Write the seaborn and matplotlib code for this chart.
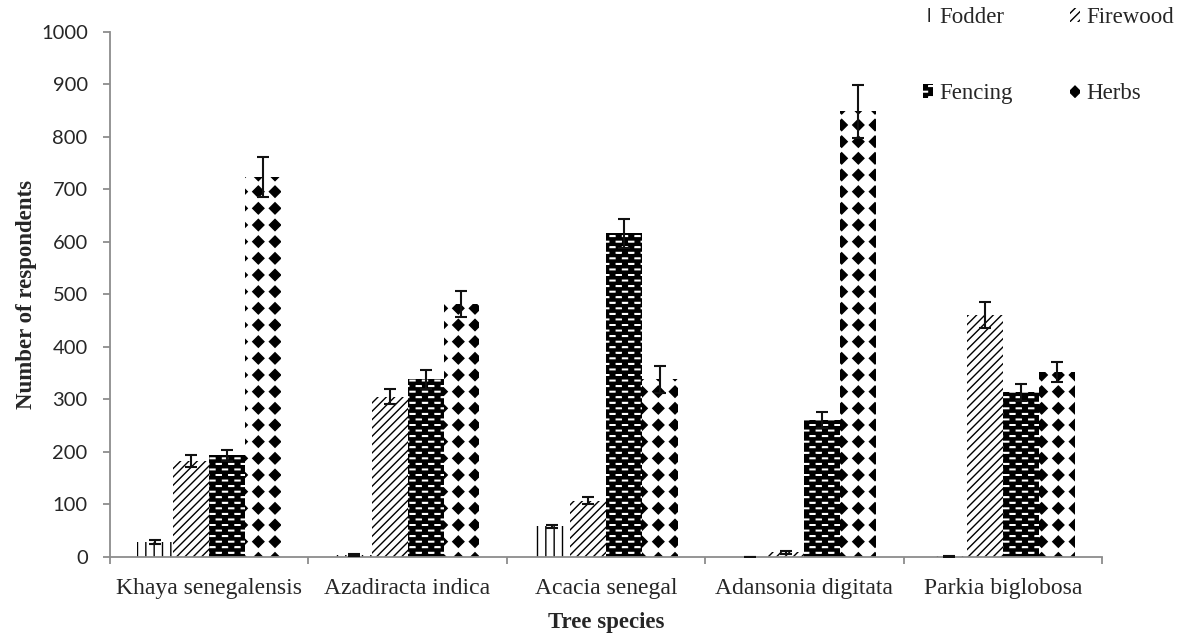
import numpy as np
import pandas as pd
import matplotlib
matplotlib.use("Agg")
import matplotlib.pyplot as plt
import matplotlib.hatch as mhatch
from matplotlib.path import Path
import seaborn as sns
from matplotlib.patches import Patch

species = ["Khaya senegalensis", "Azadiracta indica", "Acacia senegal",
           "Adansonia digitata", "Parkia biglobosa"]
uses = ["Fodder", "Firewood", "Fencing", "Herbs"]

fodder = [28, 4, 58, 0, 1]
firewood = [182, 305, 107, 8, 460]
fencing = [193, 338, 616, 260, 313]
herbs = [723, 482, 338, 848, 351]

fodder_err = [3, 2, 3, 0, 1]
firewood_err = [11, 15, 7, 3, 25]
fencing_err = [10, 18, 28, 15, 16]
herbs_err = [38, 25, 26, 50, 19]

yticks = list(range(0, 1001, 100))

values = [fodder, firewood, fencing, herbs]
errors = [fodder_err, firewood_err, fencing_err, herbs_err]


# ---- custom hatch patterns (diamond grid and brick-like dashes) ----
def _rect_block(cx, cy, hw, hh):
    return np.array([[cx - hw, cy - hh], [cx + hw, cy - hh],
                     [cx + hw, cy + hh], [cx - hw, cy + hh],
                     [cx - hw, cy - hh]])


class DiamondGrid(mhatch.HatchPatternBase):
    def __init__(self, hatch, density):
        self.n = hatch.count("O") * density
        self.num_vertices = self.n * self.n * 5

    def set_vertices_and_codes(self, vertices, codes):
        n = self.n
        h = 0.056
        shape = np.array([[0, h], [h, 0], [0, -h], [-h, 0], [0, h]])
        cs = (np.arange(n) + 0.5) / n
        k = 0
        for x in cs:
            for y in cs:
                vertices[k:k + 5] = shape + [x, y]
                codes[k] = Path.MOVETO
                codes[k + 1:k + 4] = Path.LINETO
                codes[k + 4] = Path.CLOSEPOLY
                k += 5


class DashBricks(mhatch.HatchPatternBase):
    def __init__(self, hatch, density):
        c = hatch.count("*")
        self.rows = c * 18
        self.cols = c * 8
        if c == 0:
            self.num_vertices = 0
        else:
            half = self.rows // 2
            self.num_vertices = (half * self.cols + half * (self.cols + 1)) * 5

    def set_vertices_and_codes(self, vertices, codes):
        k = 0
        hw, hh = 0.025, 0.003
        for r in range(self.rows):
            y = (r + 0.5) / self.rows
            if r % 2 == 0:
                xs = (np.arange(self.cols) + 0.5) / self.cols
            else:
                xs = np.arange(self.cols + 1) / self.cols
            for x in xs:
                vertices[k:k + 5] = _rect_block(x, y, hw, hh)
                codes[k] = Path.MOVETO
                codes[k + 1:k + 4] = Path.LINETO
                codes[k + 4] = Path.CLOSEPOLY
                k += 5


mhatch._hatch_types = [t for t in mhatch._hatch_types
                       if t not in (mhatch.LargeCircles, mhatch.Stars)]
mhatch._hatch_types += [DiamondGrid, DashBricks]

# ---- data frame ----
rows = []
for u, vals in zip(uses, values):
    for s, v in zip(species, vals):
        rows.append({"species": s, "use": u, "value": v})
df = pd.DataFrame(rows)

sns.set_theme(style="white")
plt.rcParams["hatch.linewidth"] = 1.0
serif = ["Liberation Serif", "DejaVu Serif"]

fig = plt.figure(figsize=(11.85, 6.36), dpi=100)
ax = fig.add_axes([0.0928, 0.1247, 0.8371, 0.8255])

sns.barplot(data=df, x="species", y="value", hue="use", order=species,
            hue_order=uses, errorbar=None, width=0.725, ax=ax,
            palette=["white"] * 4, legend=False)

styles = [
    dict(face="white", edge="black", hatch="||"),
    dict(face="white", edge="black", hatch="////"),
    dict(face="black", edge="white", hatch="*"),
    dict(face="white", edge="black", hatch="O"),
]

for cont, st, errs in zip(ax.containers, styles, errors):
    xs, ys = [], []
    for bar, e in zip(cont, errs):
        bar.set_facecolor(st["face"])
        bar.set_edgecolor(st["edge"])
        bar.set_hatch(st["hatch"])
        bar.set_linewidth(0)
        xs.append(bar.get_x() + bar.get_width() / 2)
        ys.append(bar.get_height())
    ax.errorbar(xs, ys, yerr=errs, fmt="none", ecolor="#111111",
                elinewidth=1.5, capsize=4.3, capthick=1.5, zorder=5)

ax.set_ylim(0, 1000)
ax.set_xlim(-0.5, len(species) - 0.5)
ax.set_yticks(yticks)
ax.set_yticklabels([str(t) for t in yticks], fontfamily="Lato", fontsize=14.5)
ax.set_xticks(range(len(species)))
ax.set_xticklabels(species, fontfamily=serif, fontsize=17)
ax.set_xticks(np.arange(-0.5, len(species), 1.0), minor=True)
ax.tick_params(axis="x", which="major", length=0, pad=15)
ax.tick_params(axis="x", which="minor", length=5, width=1.3, color="#8c8c8c",
               bottom=True)
ax.tick_params(axis="y", which="major", length=5, width=1.3, color="#8c8c8c",
               left=True, pad=11)

for side in ["top", "right"]:
    ax.spines[side].set_visible(False)
for side in ["left", "bottom"]:
    ax.spines[side].set_color("#8c8c8c")
    ax.spines[side].set_linewidth(1.3)

ax.set_xlabel("Tree species", fontfamily=serif, fontweight="bold",
              fontsize=16.5, labelpad=10)
ax.set_ylabel("Number of respondents", fontfamily=serif, fontweight="bold",
              fontsize=16.5, labelpad=3)

handles = [Patch(facecolor=st["face"], edgecolor=st["edge"], hatch=st["hatch"],
                 linewidth=0, label=u) for st, u in zip(styles, uses)]
order = [0, 2, 1, 3]
fig.legend(handles=[handles[i] for i in order], ncol=2, loc="upper left",
           bbox_to_anchor=(0.779, 0.989), frameon=False,
           prop={"family": serif, "size": 16.5},
           borderpad=0, borderaxespad=0,
           handlelength=0.45, handleheight=0.55, handletextpad=0.25,
           columnspacing=2.5, labelspacing=2.4)

fig.savefig("out.png", dpi=100)
